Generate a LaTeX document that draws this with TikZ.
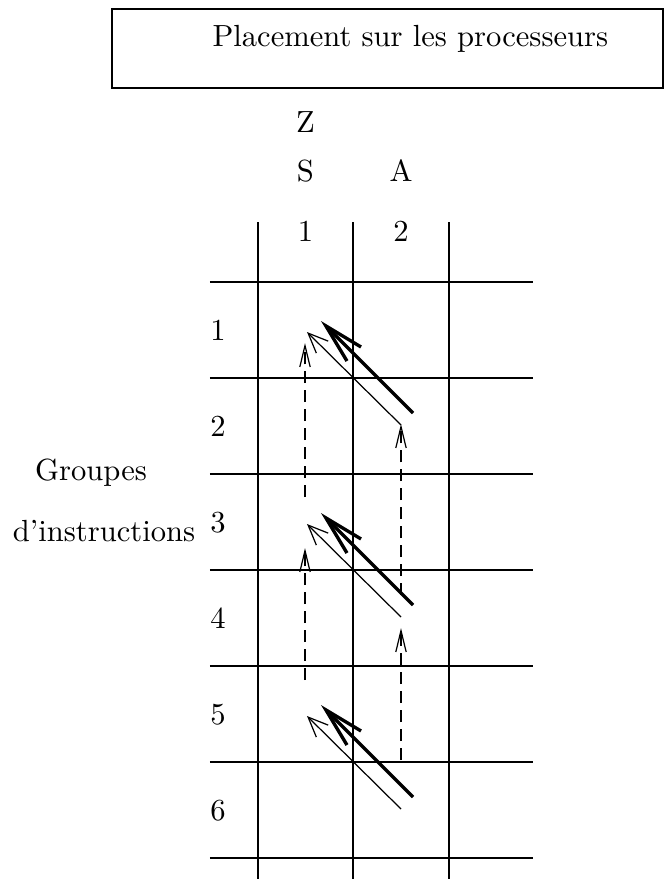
\documentclass[tikz,border=0pt]{standalone}
\usetikzlibrary{arrows.meta}
\begin{document}
\begin{tikzpicture}[x=0.327pt,y=-0.327pt,
  gridline/.style={line width=0.5pt},
  lbl/.style={inner sep=0pt,anchor=base},
  thickarr/.style={line width=1.1pt,-{Straight Barb[length=13pt,width=6.5pt]}},
  thinarr/.style={line width=0.4pt,-{Straight Barb[length=6.5pt,width=5.5pt]}},
  dasharr/.style={line width=0.4pt,dash pattern=on 3.9pt off 2.3pt,-{Straight Barb[length=7pt,width=3.4pt]}}]
\useasboundingbox (0,0) rectangle (672,879);
% title box
\draw[gridline] (112,9) rectangle (663,88);
\node[lbl,anchor=base west] (title) at (212,46) {Placement sur les processeurs};
% column labels
\node[lbl] (lz) at (305.5,132) {Z};
\node[lbl] (ls) at (305.5,181) {S};
\node[lbl] (la) at (401,181) {A};
\node[lbl] (c1) at (305.5,241) {1};
\node[lbl] (c2) at (401,241) {2};
% row labels
\foreach \k in {1,...,6}{
  \node[lbl] (r\k) at (218,{330+96*(\k-1)+10.5}) {\k};
}
\node[lbl] (grp) at (91,480) {Groupes};
\node[lbl] (instr) at (104,541) {d'instructions};
% grid
\foreach \x in {258,353,449}{
  \draw[gridline] (\x,222) -- (\x,879);
}
\foreach \y in {282,378,474,570,666,762,858}{
  \draw[gridline] (210,\y) -- (533,\y);
}
% diagonal arrows
\foreach \o [count=\i] in {0,192,384}{
  \coordinate (tka\i) at (413,413+\o);
  \coordinate (tkb\i) at (321,321+\o);
  \coordinate (tna\i) at (401,425+\o);
  \coordinate (tnb\i) at (307,332+\o);
  \draw[thickarr] (tka\i) -- (tkb\i);
  \draw[thinarr] (tna\i) -- (tnb\i);
}
% dashed arrows
\coordinate (d1a) at (305,497); \coordinate (d1b) at (305,343);
\coordinate (d2a) at (305,680); \coordinate (d2b) at (305,548);
\coordinate (d3a) at (401,595); \coordinate (d3b) at (401,424);
\coordinate (d4a) at (401,760); \coordinate (d4b) at (401,628);
\draw[dasharr] (d1a) -- (d1b);
\draw[dasharr] (d2a) -- (d2b);
\draw[dasharr] (d3a) -- (d3b);
\draw[dasharr] (d4a) -- (d4b);
\end{tikzpicture}
\end{document}
